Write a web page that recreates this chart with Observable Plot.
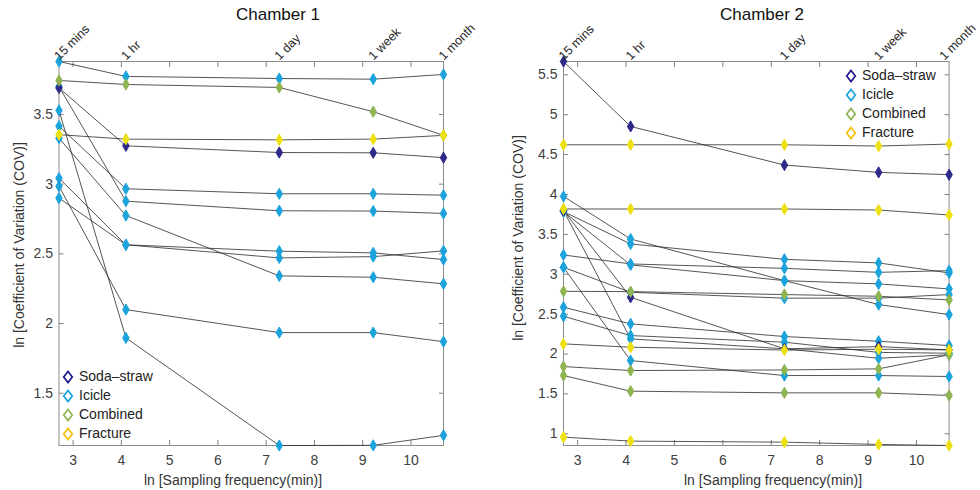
<!DOCTYPE html>
<html><head><meta charset="utf-8">
<script src="https://cdn.jsdelivr.net/npm/d3@7"></script>
<script src="https://cdn.jsdelivr.net/npm/@observablehq/plot@0.6"></script>
<style>
body{margin:0;background:#fff;font-family:"Liberation Sans",Arial,sans-serif;}
#wrap{position:relative;width:980px;height:490px;overflow:hidden;}
.panel{position:absolute;top:0;width:490px;height:490px;}
.abs{position:absolute;white-space:nowrap;color:#262626;}
.title{font-size:17px;color:#111;}
.lab{font-size:14px;color:#333;}
.leg{position:absolute;font-size:14px;color:#222;}
.leg div{height:19px;line-height:19px;display:flex;align-items:center;}
.leg svg{margin-right:5px;}
</style></head><body><div id="wrap"></div>
<script>
// x positions: ln(sampling interval in minutes)
const lnX = [2.708, 4.094, 7.272, 9.218, 10.674];
const xLabels = ["15 mins", "1 hr", "1 day", "1 week", "1 month"];
const xTicks = [3, 4, 5, 6, 7, 8, 9, 10];
const types = ["Soda-straw", "Icicle", "Combined", "Fracture"];
const typeColors = ["#2e2a8a", "#1ca3dc", "#8fb552", "#ece010"];
const legendColors = ["#1f1a8c", "#1ca3dc", "#8fb552", "#f4c20d"];
const dotOrder = ["Icicle", "Soda-straw", "Combined", "Fracture"];

// Chamber 1
const ch1Types = ["Icicle", "Combined", "Fracture", "Icicle", "Icicle", "Icicle", "Icicle", "Icicle", "Icicle", "Icicle", "Soda-straw"];
const ch1Values = [
  [3.88, 3.773, 3.758, 3.753, 3.787],
  [3.744, 3.715, 3.694, 3.52, 3.35],
  [3.355, 3.323, 3.318, 3.323, 3.35],
  [3.416, 2.967, 2.931, 2.931, 2.921],
  [3.70, 2.878, 2.809, 2.807, 2.79],
  [3.33, 2.775, 2.342, 2.332, 2.285],
  [3.043, 2.565, 2.519, 2.507, 2.459],
  [2.90, 2.565, 2.471, 2.48, 2.521],
  [2.985, 2.10, 1.935, 1.935, 1.87],
  [3.529, 1.897, 1.125, 1.126, 1.198],
  [3.69, 3.275, 3.227, 3.225, 3.19]
];
const ch1YTicks = [1.5, 2, 2.5, 3, 3.5];
const ch1YDomain = [1.125, 3.88];

// Chamber 2
const ch2Types = ["Soda-straw", "Fracture", "Fracture", "Fracture", "Fracture", "Combined", "Combined", "Combined",
  "Icicle", "Icicle", "Icicle", "Icicle", "Icicle", "Icicle", "Icicle", "Icicle", "Icicle", "Soda-straw"];
const ch2Values = [
  [5.667, 4.853, 4.369, 4.277, 4.248],
  [4.623, 4.623, 4.623, 4.607, 4.632],
  [3.818, 3.818, 3.818, 3.805, 3.743],
  [2.127, 2.085, 2.05, 2.06, 2.052],
  [0.958, 0.908, 0.895, 0.866, 0.853],
  [1.73, 1.534, 1.513, 1.513, 1.48],
  [1.843, 1.793, 1.80, 1.814, 1.99],
  [2.786, 2.782, 2.745, 2.724, 2.678],
  [3.976, 3.442, 2.92, 2.62, 2.494],
  [3.785, 3.38, 3.187, 3.142, 3.016],
  [3.242, 3.129, 3.074, 3.024, 3.045],
  [3.785, 3.117, 2.92, 2.879, 2.816],
  [3.087, 2.774, 2.70, 2.70, 2.745],
  [3.087, 1.918, 1.73, 1.73, 1.718],
  [2.586, 2.378, 2.219, 2.16, 2.106],
  [2.473, 2.231, 2.148, 2.02, 2.01],
  [3.80, 2.19, 2.065, 1.947, 1.99],
  [3.80, 2.711, 2.065, 2.093, 2.052]
];
const ch2YTicks = [1, 1.5, 2, 2.5, 3, 3.5, 4, 4.5, 5, 5.5];
const ch2YDomain = [0.853, 5.667];

const colorOf = t => typeColors[types.indexOf(t)];

function panel({left, marginLeft, marginRight, seriesTypes, values, yTicks, yDomain, title, titleX, xLabX, yLabX, yLabY, legend, lastDx}) {
  const rows = [];
  values.forEach((vals, i) => vals.forEach((v, j) => rows.push({series: i, type: seriesTypes[i], x: lnX[j], y: v})));
  const dots = rows.slice().sort((a, b) => dotOrder.indexOf(a.type) - dotOrder.indexOf(b.type));
  const top = lnX.map((x, i) => ({x, label: xLabels[i]}));
  const textOpts = {x: "x", text: "label", frameAnchor: "top", dy: -7, rotate: -45, textAnchor: "start", fill: "#262626", fontSize: 12.5};
  const chart = Plot.plot({
    width: 490, height: 490,
    marginLeft, marginRight, marginTop: 61, marginBottom: 45,
    x: {domain: [2.708, 10.674]},
    y: {domain: yDomain},
    style: {fontFamily: "'Liberation Sans', Arial, sans-serif", fontSize: "14px", color: "#404040", background: "transparent", overflow: "visible"},
    marks: [
      Plot.axisX({anchor: "bottom", ticks: xTicks, tickSize: 0, tickPadding: 10, label: null, fill: "#404040"}),
      Plot.axisX({anchor: "bottom", ticks: xTicks, tickSize: -5, text: null, label: null, stroke: "#808080"}),
      Plot.axisX({anchor: "top", ticks: xTicks, tickSize: -5, text: null, label: null, stroke: "#808080"}),
      Plot.axisY({anchor: "left", ticks: yTicks, tickSize: 0, tickPadding: 6, label: null, tickFormat: d => String(d), fill: "#404040"}),
      Plot.axisY({anchor: "left", ticks: yTicks, tickSize: -5, text: null, label: null, stroke: "#808080"}),
      Plot.axisY({anchor: "right", ticks: yTicks, tickSize: -5, text: null, label: null, stroke: "#808080"}),
      Plot.frame({stroke: "#8c8c8c"}),
      Plot.line(rows, {x: "x", y: "y", z: "series", stroke: "#2b2b2b", strokeWidth: 1, strokeOpacity: 0.8}),
      Plot.dot(dots, {x: "x", y: "y", symbol: "diamond", r: 3.4, fill: d => colorOf(d.type), stroke: d => colorOf(d.type), strokeWidth: 1}),
      Plot.text(top.slice(0, -1), {...textOpts, dx: -6}),
      Plot.text(top.slice(-1), {...textOpts, dx: lastDx})
    ]
  });
  const div = document.createElement("div");
  div.className = "panel";
  div.style.left = left + "px";
  div.appendChild(chart);
  const t = document.createElement("div");
  t.className = "abs title"; t.textContent = title;
  t.style.left = titleX + "px"; t.style.top = "5px"; t.style.transform = "translateX(-50%)";
  div.appendChild(t);
  const xl = document.createElement("div");
  xl.className = "abs lab"; xl.textContent = "ln [Sampling frequency(min)]";
  xl.style.left = xLabX + "px"; xl.style.top = "472px"; xl.style.transform = "translateX(-50%)";
  div.appendChild(xl);
  const yl = document.createElement("div");
  yl.className = "abs lab"; yl.textContent = "ln [Coefficient of Variation (COV)]";
  yl.style.left = yLabX + "px"; yl.style.top = yLabY + "px"; yl.style.transform = "translate(-50%,-50%) rotate(-90deg)";
  div.appendChild(yl);
  const lg = document.createElement("div");
  lg.className = "leg";
  lg.style.left = legend.x + "px"; lg.style.top = legend.y + "px";
  types.forEach((ty, i) => {
    const r = document.createElement("div");
    r.innerHTML = `<svg width="12" height="14" viewBox="-6 -7 12 14"><path d="M0,-5.5L4.3,0L0,5.5L-4.3,0Z" fill="none" stroke="${legendColors[i]}" stroke-width="1.7"/></svg><span>${ty === "Soda-straw" ? "Soda\u2013straw" : ty}</span>`;
    lg.appendChild(r);
  });
  div.appendChild(lg);
  return div;
}

const wrap = document.getElementById("wrap");
wrap.appendChild(panel({left: 0, marginLeft: 58.5, marginRight: 47, seriesTypes: ch1Types, values: ch1Values,
  yTicks: ch1YTicks, yDomain: ch1YDomain, title: "Chamber 1", titleX: 278, xLabX: 233, yLabX: 19, yLabY: 245,
  legend: {x: 62, y: 367}, lastDx: -6}));
wrap.appendChild(panel({left: 490, marginLeft: 73, marginRight: 31.4, seriesTypes: ch2Types, values: ch2Values,
  yTicks: ch2YTicks, yDomain: ch2YDomain, title: "Chamber 2", titleX: 272, xLabX: 283, yLabX: 28, yLabY: 238,
  legend: {x: 355, y: 66}, lastDx: -11}));
</script>
</body></html>
